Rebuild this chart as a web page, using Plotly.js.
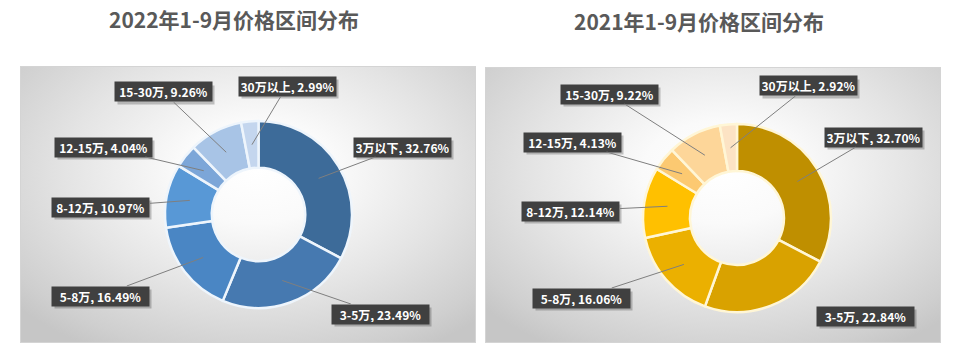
<!DOCTYPE html>
<html><head><meta charset="utf-8">
<script src="https://cdn.plot.ly/plotly-3.0.1.min.js"></script>
<style>
html,body{margin:0;padding:0;background:#fff;}
#wrap{position:relative;width:960px;height:360px;overflow:hidden;}
.panel{position:absolute;box-sizing:border-box;border:1px solid #d4d4d4;
background:radial-gradient(ellipse 70% 75% at 52% 38%, #ffffff 0%, #fafafa 25%, #e4e4e4 60%, #cfcfcf 90%, #c6c6c6 100%);}
#chart{position:absolute;left:0;top:0;width:960px;height:360px;}
</style></head><body>
<div id="wrap">
<div class="panel" style="left:20px;top:66px;width:456px;height:277px"></div>
<div class="panel" style="left:485px;top:67px;width:456px;height:276px"></div>
<div id="chart"></div>
</div>
<script>
// ---- data ----
const categories = ["3万以下", "3-5万", "5-8万", "8-12万", "12-15万", "15-30万", "30万以上"];
const share2022 = [32.76, 23.49, 16.49, 10.97, 4.04, 9.26, 2.99];
const share2021 = [32.70, 22.84, 16.06, 12.14, 4.13, 9.22, 2.92];
const title2022 = "2022年1-9月价格区间分布";
const title2021 = "2021年1-9月价格区间分布";

// ---- styling / layout ----
const W = 960, H = 360;
const blues = ["#3d6b99", "#4679b0", "#4a86c4", "#5898d6", "#7ca6d8", "#a8c4e6", "#c4d6ee"];
const golds = ["#bf8f00", "#d9a200", "#ebb000", "#ffc000", "#fcc971", "#fdd699", "#fce3c4"];
const HOLE = 0.5;
const dom2022 = {x: [0.1193, 0.4193], y: [0.1445, 0.6639]};
const dom2021 = {x: [0.6177, 0.9177], y: [0.1333, 0.6556]};
// label box centres (pixels) for each category
const labelPos2022 = [[402,147],[380,314],[100,296],[100,207],[103,147],[163,92],[287,86]];
const labelPos2021 = [[873,137],[865,316],[581,298],[570,211],[572,142],[609,94],[808,86]];
const leader2021 = [true, false, true, true, true, true, true];
const leader2022 = [true, true, true, true, true, true, true];

function pieTrace(vals, colors, lineColor, dom) {
  return {
    type: "pie", labels: categories, values: vals, sort: false,
    direction: "clockwise", rotation: 0, hole: HOLE,
    domain: dom, textinfo: "none", hoverinfo: "skip",
    marker: {colors: colors, line: {color: lineColor, width: 2.5}},
    showlegend: false
  };
}

function labels(vals, dom, pos, leader) {
  const cx = (dom.x[0] + dom.x[1]) / 2 * W;
  const cy = (1 - (dom.y[0] + dom.y[1]) / 2) * H;
  const R = Math.min((dom.x[1] - dom.x[0]) * W, (dom.y[1] - dom.y[0]) * H) / 2;
  const rMid = R * (1 + HOLE) / 2;
  const total = vals.reduce((a, b) => a + b, 0);
  let cum = 0;
  const anns = [], shapes = [];
  vals.forEach((v, i) => {
    const mid = (cum + v / 2) / total;
    cum += v;
    const th = mid * 2 * Math.PI;
    const tx = cx + rMid * Math.sin(th), ty = cy - rMid * Math.cos(th);
    const [lx, ly] = pos[i];
    const txt = categories[i] + ", " + v.toFixed(2) + "%";
    const base = {
      text: txt, xref: "paper", yref: "paper",
      font: {family: "Noto Sans CJK SC, Noto Sans, sans-serif", size: 12, color: "#ffffff", weight: "bold"},
      bgcolor: "#404040", borderpad: 2, width: 93, height: 15
    };
    if (leader[i]) {
      anns.push(Object.assign(base, {
        x: tx / W, y: 1 - ty / H, showarrow: true, arrowhead: 0, arrowwidth: 1,
        arrowcolor: "#7f7f7f", standoff: 0, axref: "pixel", ayref: "pixel",
        ax: lx - tx, ay: ly - ty
      }));
    } else {
      anns.push(Object.assign(base, {
        x: lx / W, y: 1 - ly / H, showarrow: false, xanchor: "center", yanchor: "middle"
      }));
    }
    shapes.push({type: "rect", xref: "paper", yref: "paper", layer: "above",
      x0: (lx - 48.5 + 3) / W, x1: (lx + 48.5 + 3) / W, y0: 1 - (ly + 9.5 + 3) / H, y1: 1 - (ly - 9.5 + 3) / H,
      fillcolor: "rgba(0,0,0,0.22)", line: {width: 0}});
  });
  return {anns, shapes};
}

const l22 = labels(share2022, dom2022, labelPos2022, leader2022);
const l21 = labels(share2021, dom2021, labelPos2021, leader2021);

const titleFont = {family: "Noto Sans CJK SC, sans-serif", size: 21, color: "#595959", weight: "bold"};
const layout = {
  width: W, height: H, margin: {l: 0, r: 0, t: 0, b: 0},
  paper_bgcolor: "rgba(0,0,0,0)", plot_bgcolor: "rgba(0,0,0,0)",
  showlegend: false,
  annotations: [
    {text: title2022, xref: "paper", yref: "paper", x: 234 / W, y: 1 - 19 / H, showarrow: false,
     xanchor: "center", yanchor: "middle", font: titleFont},
    {text: title2021, xref: "paper", yref: "paper", x: 699 / W, y: 1 - 21 / H, showarrow: false,
     xanchor: "center", yanchor: "middle", font: titleFont}
  ].concat(l22.anns, l21.anns),
  shapes: l22.shapes.concat(l21.shapes)
};

Plotly.newPlot("chart", [
  pieTrace(share2022, blues, "#eef5fc", dom2022),
  pieTrace(share2021, golds, "#fff6d6", dom2021)
], layout, {displayModeBar: false, staticPlot: true});
</script>
</body></html>
